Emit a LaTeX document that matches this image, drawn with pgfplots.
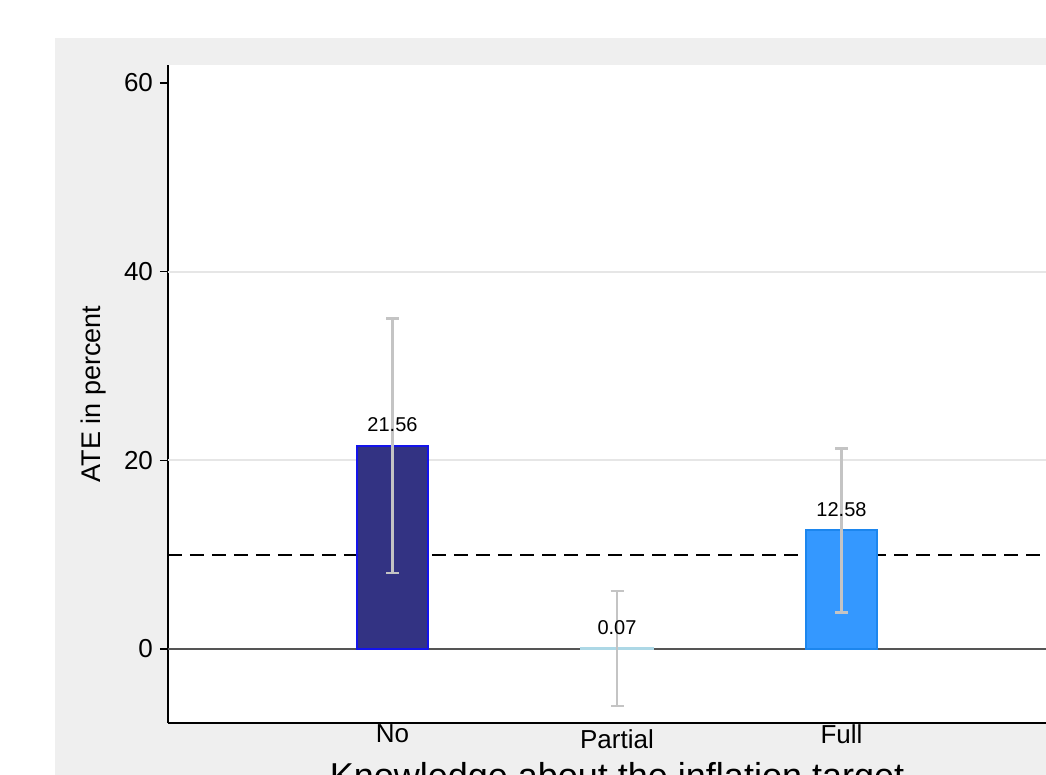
\documentclass[border=0pt]{standalone}
\usepackage{pgfplots}
\pgfplotsset{compat=1.18}
\usepackage{fontspec}
\setmainfont{Liberation Sans}

\definecolor{bgGray}{RGB}{239,239,239}
\definecolor{gridGray}{RGB}{230,230,230}
\definecolor{zeroGray}{RGB}{85,85,85}
\definecolor{errGray}{RGB}{196,196,196}
\definecolor{navyFill}{RGB}{51,51,131}
\definecolor{navyEdge}{RGB}{20,20,235}
\definecolor{partFill}{RGB}{173,216,230}
\definecolor{fullFill}{RGB}{52,152,255}
\definecolor{fullEdge}{RGB}{28,134,238}

\begin{document}
\begin{tikzpicture}
\useasboundingbox (0,0) rectangle (523pt,-387.5pt);
\clip (0,0) rectangle (523pt,-387.5pt);
\fill[white] (0,0) rectangle (523pt,-387.5pt);
\fill[bgGray] (27.5pt,-19pt) rectangle (523pt,-387.5pt);
\begin{axis}[
  at={(84pt,-361.5pt)}, anchor=south west,
  scale only axis, width=449pt, height=329pt,
  xmin=-1, xmax=3, ymin=-7.84, ymax=61.9,
  axis lines*=left,
  axis line style={line width=1pt, black},
  axis background/.style={fill=white},
  xtick={0,1,2},
  xticklabels={No,\raisebox{-3pt}{Partial},\raisebox{-0.5pt}{Full}},
  x tick style={draw=none},
  xticklabel style={anchor=base, yshift=-5.5pt},
  ytick={0,20,40,60},
  tick align=outside,
  major tick length=4pt,
  y tick style={line width=0.7pt, black},
  extra y ticks={20,40},
  extra y tick labels={},
  extra y tick style={grid=major, major tick length=0pt},
  major grid style={line width=1pt, gridGray},
  ticklabel style={font=\fontsize{13}{15}\selectfont},
  /pgf/number format/assume math mode=true,
  ylabel={ATE in percent},
  ylabel style={at={(axis description cs:-0.0835,0.5)}, anchor=center,
    font=\fontsize{13.5}{16}\selectfont},
  xlabel={Knowledge about the inflation target},
  xlabel style={at={(axis description cs:0.5,-0.0593)}, anchor=north,
    inner sep=0pt, font=\fontsize{18}{21}\selectfont},
  error bars/error bar style={line width=1.3pt, errGray},
  error bars/error mark options={rotate=90, mark size=3.25pt, line width=1.3pt, errGray},
  every node near coord/.append style={text=black, anchor=base, yshift=7pt,
    font=\fontsize{10}{12}\selectfont},
]
% reference lines: zero and the 10 percent level
\addplot[zeroGray, line width=1pt] coordinates {(-1,0) (3,0)};
\addplot[black, line width=1pt, dash pattern=on 7pt off 4pt] coordinates {(-1,10) (3,10)};

% average treatment effects with confidence intervals
\addplot[ybar, bar width=35.5pt, bar shift=0pt, fill=navyFill, draw=navyEdge, line width=1pt,
  error bars/.cd, y dir=both, y explicit]
  coordinates {(0,21.56) +- (0,13.5)};
\addplot[ybar, bar width=35.5pt, bar shift=0pt, fill=partFill, draw=partFill, line width=1pt,
  error bars/.cd, y dir=both, y explicit]
  coordinates {(1,0.07) +- (0,6.1)};
\addplot[ybar, bar width=35.5pt, bar shift=0pt, fill=fullFill, draw=fullEdge, line width=1pt,
  error bars/.cd, y dir=both, y explicit]
  coordinates {(2,12.58) +- (0,8.7)};

% value labels above the bars
\addplot[only marks, mark=none,
  nodes near coords={\pgfmathprintnumber[fixed,fixed zerofill,precision=2,assume math mode=true]{\pgfplotspointmeta}}]
  coordinates {(0,21.56) (1,0.07) (2,12.58)};
\end{axis}
\end{tikzpicture}
\end{document}
